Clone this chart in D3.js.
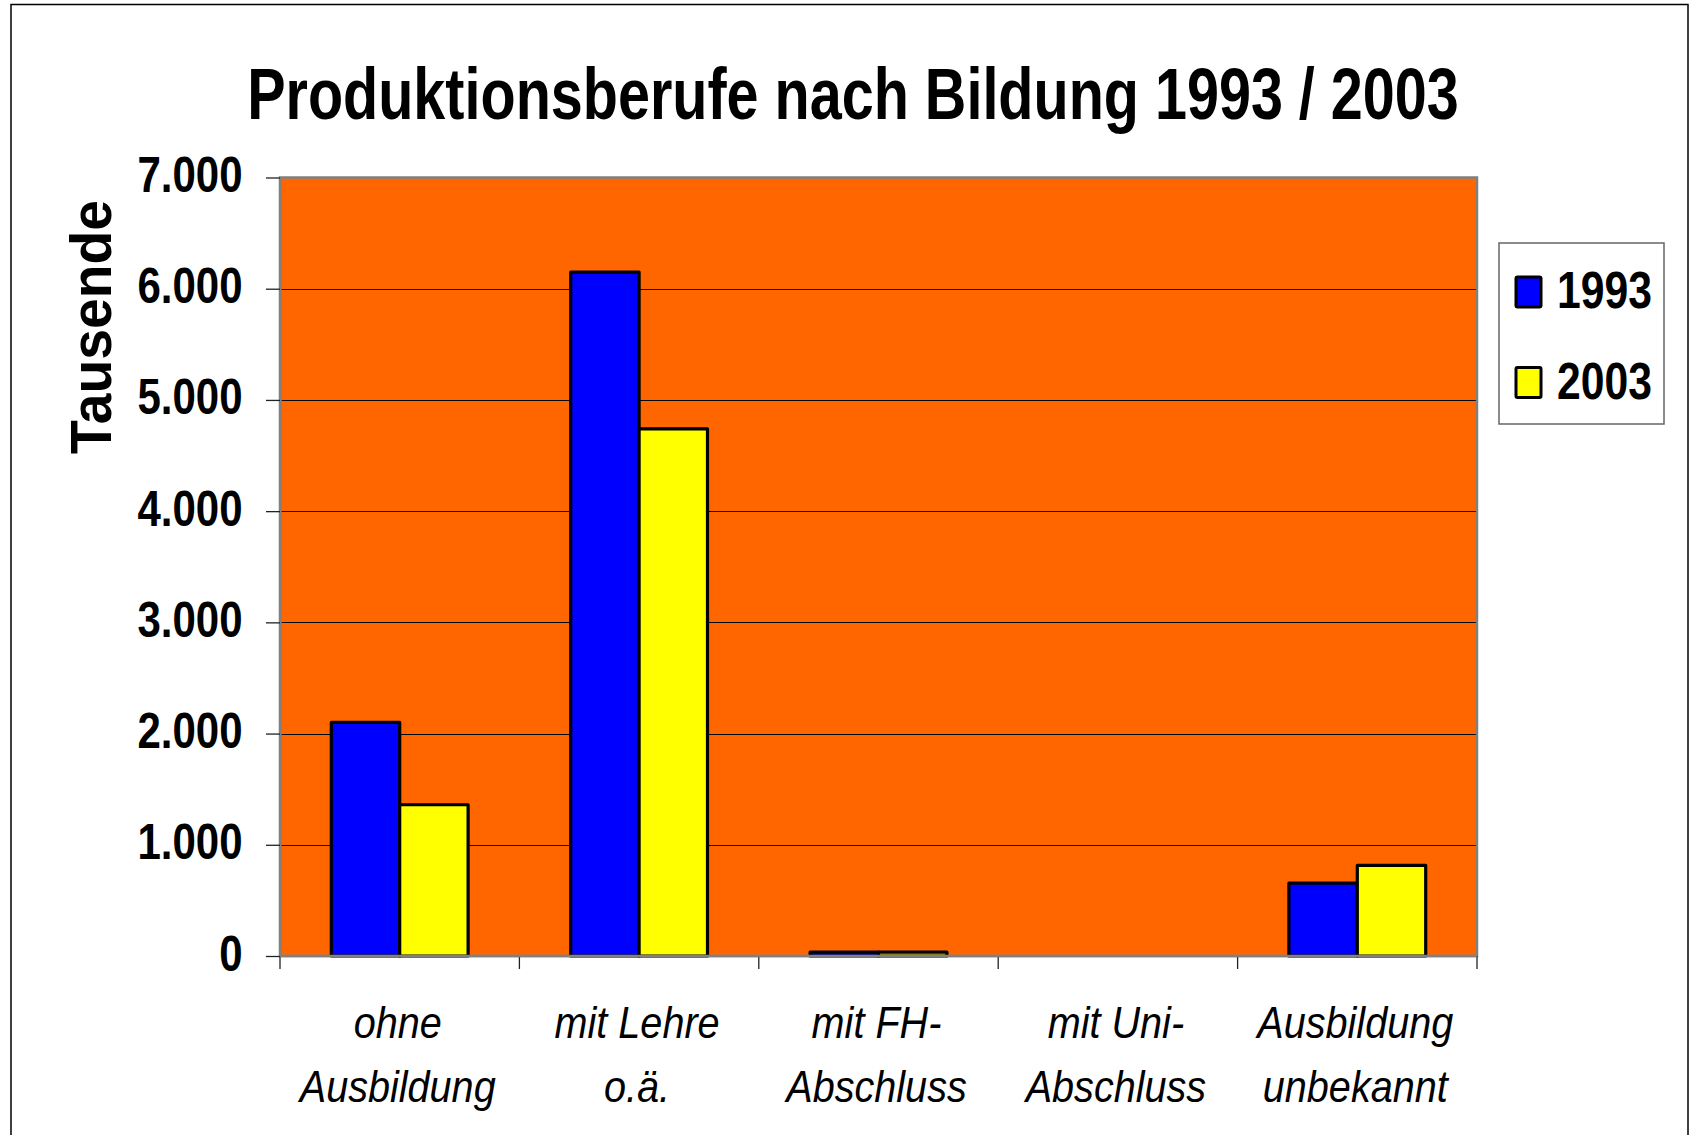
<!DOCTYPE html>
<html>
<head>
<meta charset="utf-8">
<script src="https://cdn.jsdelivr.net/npm/d3@7"></script>
<style>
  html, body { margin: 0; padding: 0; background: #fff; }
  svg { display: block; font-family: "Liberation Sans", Arial, sans-serif; }
</style>
</head>
<body>
<svg id="chart" width="1700" height="1135"></svg>
<script>
// ---- data ----
const title = "Produktionsberufe nach Bildung 1993 / 2003";
const yAxisTitle = "Tausende";
const categories = [
  ["ohne", "Ausbildung"],
  ["mit Lehre", "o.ä."],
  ["mit FH-", "Abschluss"],
  ["mit Uni-", "Abschluss"],
  ["Ausbildung", "unbekannt"]
];
const seriesNames = ["1993", "2003"];
const values1993 = [2100, 6150, 35, 0, 655];
const values2003 = [1360, 4740, 35, 0, 815];
const yTicks = [0, 1000, 2000, 3000, 4000, 5000, 6000, 7000];
const seriesColors = ["#0000FF", "#FFFF00"];

// ---- layout ----
const svg = d3.select("#chart");
const plot = { left: 280, right: 1477, top: 177.5, bottom: 956 };

const de = d3.formatLocale({ decimal: ",", thousands: ".", grouping: [3], currency: ["", " €"] });
const fmt = de.format(",d");

function condense(sel, factor) {
  sel.each(function () {
    const w = this.getComputedTextLength();
    d3.select(this).attr("textLength", w * factor).attr("lengthAdjust", "spacingAndGlyphs");
  });
}
function fitWidth(sel, width) {
  sel.attr("textLength", width).attr("lengthAdjust", "spacingAndGlyphs");
}

// outer border
svg.append("rect")
  .attr("x", 11).attr("y", 4.5).attr("width", 1677).attr("height", 1140)
  .attr("fill", "#fff").attr("stroke", "#000").attr("stroke-width", 1.5);

const idx = categories.map((d, i) => i);
const x0 = d3.scaleBand().domain(idx).range([plot.left, plot.right]).padding(0);
const x1 = d3.scaleBand().domain(seriesNames).range([0, x0.bandwidth()]).paddingInner(0).paddingOuter(0.75);
const y = d3.scaleLinear().domain([0, 7000]).range([plot.bottom, plot.top]);

// plot area
svg.append("rect")
  .attr("x", plot.left).attr("y", plot.top)
  .attr("width", plot.right - plot.left).attr("height", plot.bottom - plot.top)
  .attr("fill", "#FF6600");

// gridlines
svg.append("g").selectAll("line")
  .data(yTicks.filter(t => t > 0 && t < 7000))
  .join("line")
  .attr("x1", plot.left).attr("x2", plot.right)
  .attr("y1", d => Math.round(y(d)) + 0.5).attr("y2", d => Math.round(y(d)) + 0.5)
  .attr("stroke", "#000").attr("stroke-width", 1.2);

// plot border (gray)
svg.append("rect")
  .attr("x", plot.left).attr("y", plot.top)
  .attr("width", plot.right - plot.left).attr("height", plot.bottom - plot.top)
  .attr("fill", "none").attr("stroke", "#808080").attr("stroke-width", 2.5);

// bars
const seriesData = [values1993, values2003];
const groups = svg.append("g").selectAll("g")
  .data(seriesNames.map((s, si) => ({ s, si, vals: seriesData[si] })))
  .join("g")
  .attr("fill", d => seriesColors[d.si]);
groups.selectAll("rect")
  .data(d => d.vals.map((v, i) => ({ v, i, s: d.s })))
  .join("rect")
  .filter(d => d.v > 0)
  .attr("x", d => x0(d.i) + x1(d.s))
  .attr("width", x1.bandwidth())
  .attr("y", d => y(d.v))
  .attr("height", d => y(0) - y(d.v))
  .attr("stroke", "#000").attr("stroke-width", 3.2).attr("stroke-linejoin", "round");

// y axis
const yAxis = d3.axisLeft(y).tickValues(yTicks).tickSize(14).tickSizeOuter(0).tickFormat(fmt);
const gy = svg.append("g").attr("transform", `translate(${plot.left},0)`).call(yAxis);
gy.select(".domain").attr("stroke", "#808080").attr("stroke-width", 2.5);
gy.selectAll(".tick line").attr("stroke", "#222").attr("stroke-width", 1.3);
gy.selectAll(".tick text")
  .attr("x", -37.5).attr("dy", null).attr("y", 14)
  .attr("fill", "#000")
  .style("font-size", "50px").style("font-weight", "bold")
  .attr("text-anchor", "end")
  .call(condense, 0.84);

// x axis ticks at band boundaries
const boundaries = idx.map(i => x0(i)).concat([plot.right]);
svg.append("g").selectAll("line")
  .data(boundaries)
  .join("line")
  .attr("x1", d => d).attr("x2", d => d)
  .attr("y1", plot.bottom).attr("y2", plot.bottom + 13)
  .attr("stroke", "#222").attr("stroke-width", 1.3);
svg.append("line")
  .attr("x1", plot.left).attr("x2", plot.right)
  .attr("y1", plot.bottom).attr("y2", plot.bottom)
  .attr("stroke", "#808080").attr("stroke-width", 2.5);

// x labels
const xl = svg.append("g").selectAll("text")
  .data(categories.map((c, i) => ({ c, i })))
  .join("text")
  .attr("text-anchor", "middle")
  .style("font-size", "45px").style("font-style", "italic")
  .attr("fill", "#000");
xl.each(function (d) {
  const t = d3.select(this);
  const cx = x0(d.i) + x0.bandwidth() / 2 - 2;
  d.c.forEach((line, li) => {
    t.append("tspan").attr("x", cx).attr("y", 1038 + li * 63.5).text(line);
  });
});
xl.selectAll("tspan").call(condense, 0.88);

// title (condensed via transform so its box stays inside the page)
const titleText = svg.append("text")
  .attr("text-anchor", "middle")
  .style("font-size", "72px").style("font-weight", "bold")
  .text(title);
const natW = titleText.node().getComputedTextLength();
titleText.attr("transform", `translate(853,119) scale(${1212 / natW},1)`);

// y axis title
svg.append("text")
  .attr("transform", "translate(111,327) rotate(-90)")
  .attr("text-anchor", "middle")
  .style("font-size", "57px").style("font-weight", "bold")
  .text(yAxisTitle)
  .call(fitWidth, 254);

// legend
const lg = svg.append("g");
lg.append("rect")
  .attr("x", 1499).attr("y", 243).attr("width", 165).attr("height", 181)
  .attr("fill", "#fff").attr("stroke", "#666").attr("stroke-width", 1.5);
const items = lg.selectAll("g.item")
  .data(seriesNames.map((s, i) => ({ s, i })))
  .join("g").attr("class", "item")
  .attr("transform", d => `translate(0,${d.i * 90.5})`);
items.append("rect")
  .attr("x", 1516).attr("y", 277).attr("width", 25).attr("height", 30)
  .attr("fill", d => seriesColors[d.i])
  .attr("stroke", "#000").attr("stroke-width", 3).attr("rx", 1.5);
items.append("text")
  .attr("x", 1557).attr("y", 308)
  .style("font-size", "52px").style("font-weight", "bold")
  .text(d => d.s)
  .call(fitWidth, 95);
</script>
</body>
</html>
